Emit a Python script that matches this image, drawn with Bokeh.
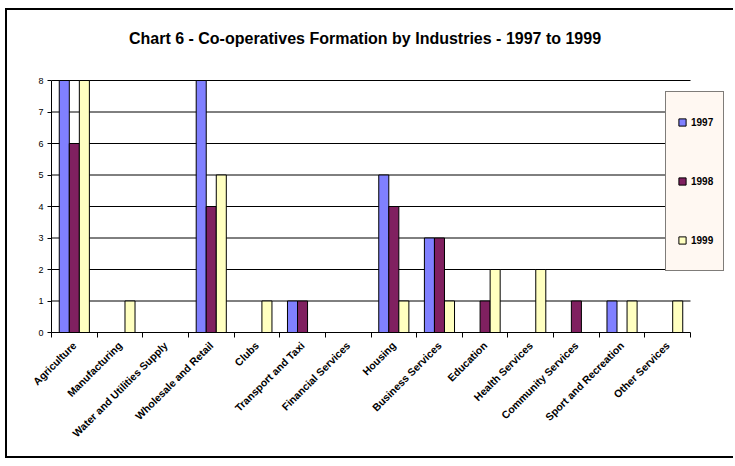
import math
from bokeh.plotting import figure
from bokeh.models import (ColumnDataSource, FixedTicker, Legend, LegendItem, Label, Range1d)
from bokeh.embed import file_html
from bokeh.resources import INLINE

categories = ["Agriculture", "Manufacturing", "Water and Utilities Supply",
              "Wholesale and Retail", "Clubs", "Transport and Taxi",
              "Financial Services", "Housing", "Business Services", "Education",
              "Health Services", "Community Services", "Sport and Recreation",
              "Other Services"]
years = ["1997", "1998", "1999"]
v1997 = [8, 0, 0, 8, 0, 1, 0, 5, 3, 0, 0, 0, 1, 0]
v1998 = [6, 0, 0, 4, 0, 1, 0, 4, 3, 1, 0, 1, 0, 0]
v1999 = [8, 1, 0, 5, 1, 0, 0, 1, 1, 2, 2, 0, 1, 1]
y_ticks = [0, 1, 2, 3, 4, 5, 6, 7, 8]
title_text = "Chart 6 - Co-operatives Formation by Industries - 1997 to 1999"

colors = ["#8080FF", "#802060", "#FFFFC0"]
series = [v1997, v1998, v1999]
offsets = [-0.22, 0.0, 0.22]
FONT = "Liberation Sans"

# canvas (inside the outer border)
W, H = 728, 450
FL, FB = 44, 322            # frame left / bottom in canvas px
X_AX = (44, 683)            # pixel span of the category axis
Y_AX = (322, 70)            # pixel span of 0..8
n = len(categories)
xppu = (X_AX[1] - X_AX[0]) / n
yppu = (Y_AX[0] - Y_AX[1]) / 8.0
x_end = 0.5 + n + (W - X_AX[1]) / xppu
y_end = 8 + Y_AX[1] / yppu

p = figure(width=W, height=H, output_backend="svg", toolbar_location=None,
           x_range=Range1d(0.5, x_end), y_range=Range1d(0, y_end),
           min_border_left=FL, min_border_right=0, min_border_top=0,
           min_border_bottom=H - FB, margin=(8, 0, 0, 5),
           styles={"border-left": "2px solid black", "border-top": "2px solid black",
                   "border-bottom": "2px solid black"})
p.outline_line_color = None
p.background_fill_color = "white"
p.border_fill_color = "white"

xs = list(range(1, n + 1))

# horizontal gridlines limited to the category span
p.xgrid.grid_line_color = None
p.ygrid.grid_line_color = None
gl = [t for t in y_ticks if t > 0]
p.segment(x0=[0.5] * len(gl), x1=[n + 0.5] * len(gl), y0=gl, y1=gl,
          line_color="black", line_width=1)

for vals, col, off in zip(series, colors, offsets):
    src = ColumnDataSource(dict(x=[x + off for x in xs], top=vals))
    p.vbar(x="x", top="top", width=0.22, bottom=0, source=src,
           fill_color=col, line_color="black", line_width=1)

# y axis
p.yaxis.ticker = FixedTicker(ticks=y_ticks)
p.yaxis.bounds = (0, 8)
p.yaxis.axis_line_color = "black"
p.yaxis.major_tick_line_color = "black"
p.yaxis.major_tick_out = 4
p.yaxis.major_tick_in = 0
p.yaxis.minor_tick_line_color = None
p.yaxis.major_label_text_font = FONT
p.yaxis.major_label_text_font_size = "9px"
p.yaxis.major_label_text_color = "black"
p.yaxis.major_label_standoff = 4

# x axis
p.xaxis.ticker = FixedTicker(ticks=xs, minor_ticks=[x - 0.5 for x in xs] + [n + 0.5])
p.xaxis.bounds = (0.5, n + 0.5)
p.xaxis.major_label_overrides = {x: c for x, c in zip(xs, categories)}
p.xaxis.major_label_orientation = math.pi / 4
p.xaxis.major_tick_out = 0
p.xaxis.major_tick_in = 0
p.xaxis.minor_tick_out = 5
p.xaxis.minor_tick_in = 0
p.xaxis.minor_tick_line_color = "black"
p.xaxis.axis_line_color = "black"
p.xaxis.major_label_text_font = FONT
p.xaxis.major_label_text_font_style = "bold"
p.xaxis.major_label_text_font_size = "10.5px"
p.xaxis.major_label_text_color = "black"
p.xaxis.major_label_standoff = 6

# title (inside frame area)
p.add_layout(Label(x=357.5 - FL, y=FB - 28, x_units="screen", y_units="screen",
                   text=title_text, text_font=FONT, text_font_style="bold",
                   text_font_size="16px", text_align="center", text_baseline="middle",
                   text_color="black"))

# legend with marker swatches
items = []
for yr, col in zip(years, colors):
    r = p.scatter(x=[1], y=[-10], marker="square", fill_color=col, line_color="black",
                  line_width=1)
    items.append(LegendItem(label=yr, renderers=[r]))
legend = Legend(items=items, location=(658 - FL, FB - 261), orientation="vertical",
                padding=7, spacing=13, glyph_width=18, glyph_height=46,
                label_height=46, label_width=25, label_standoff=0,
                label_text_font=FONT, label_text_font_style="bold",
                label_text_font_size="10px", label_text_color="black",
                background_fill_color="#FFF8F2", background_fill_alpha=1,
                border_line_color="black", border_line_width=1, margin=0)
p.add_layout(legend, "center")

open("out.html", "w").write(file_html(p, INLINE))
